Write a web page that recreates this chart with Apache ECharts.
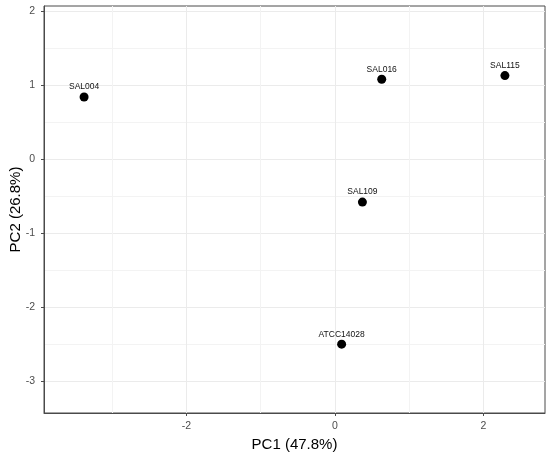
<!DOCTYPE html>
<html>
<head>
<meta charset="utf-8">
<script src="https://cdn.jsdelivr.net/npm/echarts@6/dist/echarts.min.js"></script>
<style>
  html, body { margin: 0; padding: 0; background: #fff; }
  #pca { width: 550px; height: 456px; }
</style>
</head>
<body>
<div id="pca"></div>
<script>
// 样本名和主成分坐标
var samples = ['SAL004', 'SAL016', 'SAL115', 'SAL109', 'ATCC14028'];
var pc1 = [-3.38, 0.63, 2.29, 0.37, 0.09];
var pc2 = [0.84, 1.08, 1.13, -0.58, -2.50];

// 刻度
var xTicks = [-2, 0, 2];
var yTicks = [-3, -2, -1, 0, 1, 2];
var xMinor = [-3, -1, 1];
var yMinor = [-2.5, -1.5, -0.5, 0.5, 1.5];
var xRange = [-3.92, 2.83];
var yRange = [-3.43, 2.07];

var font = 'Liberation Sans, Arial, sans-serif';

function setScatter() {
    var myChart = echarts.init(document.getElementById('pca'));
    var points = samples.map(function(s, i) {
        return [pc1[i], pc2[i], s];
    });

    // 次网格线用一组隐藏的坐标轴画
    function minorAxis(range, values) {
        return {
            type: 'value',
            min: range[0],
            max: range[1],
            axisLine: { show: false, onZero: false },
            axisTick: { show: false, customValues: values },
            axisLabel: { show: false, customValues: values },
            splitLine: { show: true, lineStyle: { color: '#f3f3f3', width: 1 } }
        };
    }

    var option = {
        animation: false,
        grid: {
            left: 44,
            right: 5,
            top: 6,
            bottom: 43,
            outerBoundsMode: 'none',
            containLabel: false,
            show: true,
            borderColor: '#4a4a4a',
            borderWidth: 1,
            backgroundColor: 'transparent'
        },
        xAxis: [{
            type: 'value',
            min: xRange[0],
            max: xRange[1],
            name: 'PC1 (47.8%)',
            nameLocation: 'middle',
            nameGap: 24,
            nameMoveOverlap: false,
            nameTextStyle: { color: '#000', fontSize: 15, fontFamily: font },
            axisLine: { show: true, onZero: false, lineStyle: { color: '#4a4a4a', width: 1 } },
            axisTick: { show: true, inside: false, length: 3, customValues: xTicks,
                lineStyle: { color: '#4a4a4a', width: 1 } },
            axisLabel: { customValues: xTicks, color: '#4d4d4d', fontSize: 10.5,
                fontFamily: font, margin: 8 },
            splitLine: { show: true, lineStyle: { color: '#ebebeb', width: 1 } }
        }, minorAxis(xRange, xMinor)],
        yAxis: [{
            type: 'value',
            min: yRange[0],
            max: yRange[1],
            name: 'PC2 (26.8%)',
            nameLocation: 'middle',
            nameGap: 21,
            nameRotate: 90,
            nameMoveOverlap: false,
            nameTextStyle: { color: '#000', fontSize: 15, fontFamily: font },
            axisLine: { show: true, onZero: false, lineStyle: { color: '#4a4a4a', width: 1 } },
            axisTick: { show: true, inside: false, length: 3, customValues: yTicks,
                lineStyle: { color: '#4a4a4a', width: 1 } },
            axisLabel: { customValues: yTicks, color: '#4d4d4d', fontSize: 10.5,
                fontFamily: font, margin: 9 },
            splitLine: { show: true, lineStyle: { color: '#ebebeb', width: 1 } }
        }, minorAxis(yRange, yMinor)],
        series: [{
            type: 'scatter',
            xAxisIndex: 0,
            yAxisIndex: 0,
            symbolSize: 9,
            itemStyle: { color: '#000', opacity: 1 },
            label: {
                show: true,
                position: 'top',
                distance: 1,
                color: '#111',
                fontSize: 8.5,
                fontFamily: font,
                formatter: function(p) { return p.data[2]; }
            },
            data: points
        }]
    };
    myChart.setOption(option);
}

setScatter();
</script>
</body>
</html>
